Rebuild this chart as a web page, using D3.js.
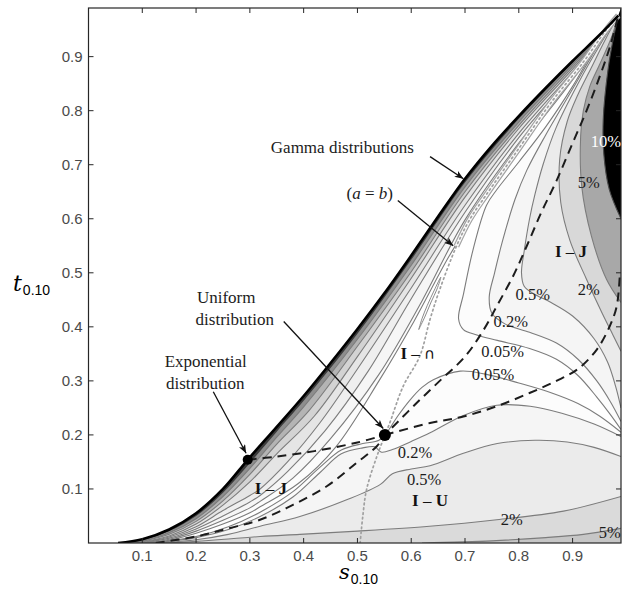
<!DOCTYPE html>
<html>
<head>
<meta charset="utf-8">
<script src="https://cdn.jsdelivr.net/npm/d3@7"></script>
<style>
  body { margin: 0; background: #fff; }
  text { font-family: "Liberation Serif", "Times New Roman", serif; }
  .tick-label { font-family: "Liberation Sans", Arial, sans-serif; font-size: 15px; fill: #4a4a4a; }
</style>
</head>
<body>
<svg id="chart" width="626" height="590"></svg>
<script>
// ---------- axis ticks ----------
const tickValues = [0.1, 0.2, 0.3, 0.4, 0.5, 0.6, 0.7, 0.8, 0.9];
const tickLabels = ["0.1", "0.2", "0.3", "0.4", "0.5", "0.6", "0.7", "0.8", "0.9"];

// ---------- Gamma boundary (s, t) ----------
const gammaCurve = [[0.055,0],[0.1,0.007],[0.15,0.025],[0.2,0.055],[0.25,0.1],[0.296,0.154],[0.35,0.215],
  [0.4,0.272],[0.45,0.333],[0.5,0.396],[0.55,0.462],[0.6,0.532],[0.65,0.604],[0.7,0.674],[0.75,0.735],
  [0.8,0.79],[0.85,0.842],[0.9,0.892],[0.95,0.94],[0.985,0.976]];

// ---------- contour bands hugging the Gamma boundary ----------
const bandE1 = [[0.062,0],[0.1,0.005],[0.15,0.022],[0.2,0.05],[0.25,0.093],[0.3,0.148],[0.35,0.206],[0.4,0.263],
  [0.5,0.387],[0.6,0.524],[0.7,0.667],[0.8,0.785],[0.9,0.889],[0.985,0.976]];
const bandE2 = [[0.07,0],[0.1,0.004],[0.15,0.019],[0.2,0.045],[0.25,0.086],[0.3,0.138],[0.35,0.196],[0.4,0.252],
  [0.5,0.377],[0.6,0.514],[0.7,0.659],[0.8,0.779],[0.9,0.885],[0.985,0.976]];
const bandE3 = [[0.078,0],[0.1,0.003],[0.15,0.016],[0.2,0.04],[0.25,0.078],[0.3,0.127],[0.35,0.183],[0.41,0.245],
  [0.5,0.364],[0.6,0.502],[0.7,0.65],[0.8,0.773],[0.9,0.881],[0.985,0.976]];
const bandE4 = [[0.086,0],[0.15,0.013],[0.2,0.035],[0.25,0.07],[0.3,0.113],[0.35,0.165],[0.42,0.235],
  [0.5,0.345],[0.6,0.49],[0.7,0.64],[0.8,0.767],[0.9,0.877],[0.985,0.976]];
const fanF1 = [[0.093,0],[0.15,0.011],[0.2,0.03],[0.25,0.06],[0.3,0.088],[0.319,0.1],[0.37,0.15],[0.43,0.222],
  [0.5,0.322],[0.6,0.472],[0.7,0.625],[0.8,0.758],[0.9,0.872],[0.985,0.976]];
const fanF2 = [[0.1,0],[0.15,0.009],[0.2,0.026],[0.25,0.05],[0.3,0.076],[0.319,0.088],[0.37,0.132],[0.44,0.208],
  [0.52,0.318],[0.6,0.452],[0.7,0.612],[0.8,0.75],[0.9,0.867],[0.985,0.976]];
const fanF3 = [[0.105,0],[0.15,0.007],[0.2,0.022],[0.25,0.042],[0.3,0.065],[0.319,0.077],[0.38,0.12],[0.45,0.193],
  [0.54,0.312],[0.62,0.448],[0.7,0.598],[0.8,0.74],[0.9,0.862],[0.985,0.976]];
const fanF4 = [[0.11,0],[0.15,0.005],[0.2,0.018],[0.25,0.035],[0.3,0.056],[0.319,0.067],[0.39,0.11],[0.46,0.178],
  [0.54,0.3],[0.605,0.41],[0.67,0.53],[0.72,0.61],[0.8,0.728],[0.9,0.857],[0.985,0.976]];
const leafContour = [[0.614,0.395],[0.62,0.415],[0.63,0.44],[0.643,0.468],[0.655,0.492],[0.648,0.47],
  [0.637,0.446],[0.626,0.42],[0.614,0.395]];

// ---------- contours in the lower (I-U) part ----------
const lowC005 = [[0.115,0],[0.2,0.012],[0.26,0.03],[0.319,0.057],[0.38,0.095],[0.43,0.14],[0.47,0.172],[0.51,0.184],
  [0.54,0.19],[0.555,0.205],[0.575,0.235],[0.598,0.265],[0.62,0.288],[0.641,0.302],[0.691,0.318],[0.74,0.312],
  [0.8,0.296],[0.86,0.278],[0.91,0.258],[0.95,0.235],[0.99,0.205]];
const lowC02 = [[0.12,0],[0.2,0.01],[0.26,0.025],[0.319,0.049],[0.38,0.085],[0.43,0.13],[0.47,0.165],[0.51,0.176],
  [0.532,0.178],[0.545,0.168],[0.565,0.173],[0.6,0.188],[0.635,0.204],[0.697,0.236],[0.759,0.255],[0.821,0.253],
  [0.88,0.24],[0.94,0.22],[0.99,0.197]];
const lowC05 = [[0.13,0],[0.2,0.006],[0.26,0.016],[0.319,0.031],[0.393,0.049],[0.48,0.08],[0.542,0.108],[0.565,0.128],
  [0.6,0.137],[0.635,0.143],[0.697,0.166],[0.76,0.184],[0.83,0.19],[0.89,0.187],[0.94,0.177],[0.99,0.16]];
const lowC2 = [[0.14,0],[0.2,0.003],[0.319,0.012],[0.393,0.016],[0.5,0.022],[0.634,0.031],[0.759,0.043],
  [0.883,0.059],[0.99,0.086]];
const lowC5 = [[0.62,0],[0.75,0.004],[0.85,0.01],[0.92,0.016],[0.99,0.027]];

// ---------- contours in the upper-right (I-∩ / I-J) part ----------
const upC005 = [[0.985,0.976],[0.95,0.93],[0.9,0.845],[0.85,0.77],[0.8,0.705],[0.76,0.655],[0.74,0.625],[0.715,0.543],
  [0.697,0.46],[0.688,0.415],[0.697,0.395],[0.722,0.385],[0.76,0.375],[0.82,0.36],[0.87,0.34],[0.91,0.31],
  [0.945,0.27],[0.97,0.238],[0.99,0.21]];
const upC02 = [[0.985,0.976],[0.95,0.925],[0.9,0.84],[0.85,0.755],[0.815,0.69],[0.793,0.636],[0.77,0.56],[0.755,0.5],
  [0.745,0.455],[0.75,0.425],[0.775,0.405],[0.82,0.39],[0.87,0.37],[0.91,0.34],[0.945,0.3],[0.97,0.262],[0.99,0.225]];
const upC05 = [[0.985,0.976],[0.95,0.92],[0.91,0.85],[0.87,0.77],[0.845,0.7],[0.83,0.645],[0.82,0.6],[0.81,0.54],
  [0.805,0.5],[0.81,0.475],[0.83,0.46],[0.86,0.445],[0.9,0.42],[0.94,0.378],[0.965,0.335],[0.98,0.29],[0.99,0.25]];
const upC2 = [[0.985,0.976],[0.96,0.93],[0.935,0.88],[0.91,0.83],[0.89,0.78],[0.876,0.71],[0.878,0.63],[0.895,0.56],
  [0.925,0.49],[0.955,0.425],[0.975,0.385],[0.99,0.355]];
const upC5 = [[0.985,0.976],[0.972,0.935],[0.95,0.885],[0.932,0.845],[0.92,0.8],[0.915,0.753],[0.917,0.66],
  [0.935,0.568],[0.963,0.488],[0.99,0.445]];
const upC10 = [[0.985,0.976],[0.976,0.935],[0.966,0.877],[0.957,0.784],[0.958,0.72],[0.968,0.655],[0.99,0.6]];

// ---------- reference curves ----------
const symmetricLine = [[0.505,0],[0.51,0.05],[0.517,0.099],[0.536,0.16],[0.56,0.222],[0.585,0.29],[0.616,0.346],
  [0.635,0.414],[0.653,0.469],[0.684,0.549],[0.709,0.599],[0.74,0.645],[0.8,0.73],[0.86,0.815],[0.92,0.89],
  [0.96,0.946],[0.985,0.976]];
const dashedExpUni = [[0.296,0.154],[0.35,0.16],[0.42,0.17],[0.5,0.186],[0.551,0.2]];
const dashedUniEdge = [[0.551,0.2],[0.635,0.222],[0.697,0.234],[0.759,0.253],[0.821,0.278],[0.87,0.3],[0.91,0.322],
  [0.945,0.358],[0.969,0.401],[0.982,0.438],[0.988,0.5]];
const dashedDiag = [[0.125,0],[0.2,0.012],[0.26,0.027],[0.319,0.043],[0.381,0.071],[0.443,0.105],[0.498,0.148],
  [0.536,0.179],[0.551,0.2],[0.567,0.216],[0.61,0.259],[0.653,0.3],[0.7,0.345],[0.735,0.395],[0.76,0.44],
  [0.79,0.495],[0.815,0.55],[0.842,0.612],[0.87,0.67],[0.9,0.74],[0.926,0.8],[0.95,0.862],[0.97,0.92],[0.985,0.976]];

// ---------- special distributions ----------
const specialPoints = [[0.296,0.154],[0.551,0.2]];

// ---------- annotations: [s, t, text] ----------
const levelLabels = [[0.962,0.743,"10%"],[0.93,0.667,"5%"],[0.93,0.469,"2%"],[0.826,0.46,"0.5%"],[0.785,0.41,"0.2%"],
  [0.77,0.354,"0.05%"],[0.752,0.312,"0.05%"],[0.607,0.167,"0.2%"],[0.624,0.117,"0.5%"],[0.787,0.043,"2%"],
  [0.969,0.019,"5%"]];
const regionLabels = [[0.612,0.352,"I","∩"],[0.897,0.54,"I","J"],[0.339,0.102,"I","J"],[0.635,0.08,"I","U"]];
const noteLabels = [[0.472,0.732,"Gamma distributions"],[0.256,0.454,"Uniform"],[0.272,0.413,"distribution"],
  [0.218,0.336,"Exponential"],[0.217,0.295,"distribution"]];
const arrows = [[[0.635,0.715],[0.697,0.674]],[[0.575,0.634],[0.678,0.55]],[[0.363,0.41],[0.548,0.212]],
  [[0.232,0.28],[0.293,0.166]]];
const symLabelPos = [0.523,0.647];

// ---------- scales ----------
const S_MAX = 0.99, T_MAX = 0.99;
const x = d3.scaleLinear().domain([0, S_MAX]).range([88.5, 621]);
const y = d3.scaleLinear().domain([0, T_MAX]).range([543, 8]);

const svg = d3.select("#chart");
const defs = svg.append("defs");
defs.append("clipPath").attr("id", "plotClip").append("rect")
  .attr("x", x(0)).attr("y", y(T_MAX)).attr("width", x(S_MAX) - x(0)).attr("height", y(0) - y(T_MAX));
defs.append("marker").attr("id", "arrowHead").attr("viewBox", "0 0 10 8")
  .attr("refX", 10).attr("refY", 4).attr("markerWidth", 10).attr("markerHeight", 7)
  .attr("markerUnits", "userSpaceOnUse").attr("orient", "auto")
  .append("path").attr("d", "M0,0 L10,4 L0,8 L2.5,4 Z").attr("fill", "#111");

const line = d3.line().x(d => x(d[0])).y(d => y(d[1])).curve(d3.curveCatmullRom.alpha(0.5));
const plot = svg.append("g").attr("clip-path", "url(#plotClip)");

// region under a lower contour, down to t = 0
const belowPath = pts => line(pts) + `L${x(S_MAX)},${y(0)}L${x(pts[0][0])},${y(0)}Z`;
// region between an upper contour and the right edge
const rightPath = pts => line(pts) + `L${x(S_MAX)},${y(T_MAX)}Z`;
// region between a fan contour and the Gamma boundary
const gammaRev = gammaCurve.slice().reverse();
const fanPath = pts => line(pts) + line(gammaRev).replace(/^M/, "L") + "Z";

const lowerFills = [[lowC005, "#fcfcfc"], [lowC02, "#f5f5f5"], [lowC05, "#ebebeb"], [lowC2, "#dadada"], [lowC5, "#c6c6c6"]];
const upperFills = [[upC005, "#fcfcfc"], [upC02, "#f5f5f5"], [upC05, "#ebebeb"], [upC2, "#d8d8d8"], [upC5, "#a8a8a8"], [upC10, "#000"]];
const fanFills = [[fanF4, "#fcfcfc"], [fanF3, "#f6f6f6"], [fanF2, "#efefef"], [fanF1, "#e5e5e5"],
  [bandE4, "#d3d3d3"], [bandE3, "#b4b4b4"], [bandE2, "#8e8e8e"], [bandE1, "#3a3a3a"]];

plot.selectAll("path.low").data(lowerFills).join("path").attr("class", "low")
  .attr("d", d => belowPath(d[0])).attr("fill", d => d[1]);
plot.selectAll("path.up").data(upperFills).join("path").attr("class", "up")
  .attr("d", d => rightPath(d[0])).attr("fill", d => d[1]);
plot.selectAll("path.fan").data(fanFills).join("path").attr("class", "fan")
  .attr("d", d => fanPath(d[0])).attr("fill", d => d[1]);

// contour lines
const contourLines = [lowC005, lowC02, lowC05, lowC2, lowC5, upC005, upC02, upC05, upC2, upC5,
  fanF4, fanF3, fanF2, fanF1, bandE4, bandE3, bandE2];
plot.selectAll("path.cl").data(contourLines).join("path").attr("class", "cl")
  .attr("d", line).attr("fill", "none").attr("stroke", "#7c7c7c").attr("stroke-width", 1.1);
plot.append("path").attr("d", line(upC10)).attr("fill", "none").attr("stroke", "#4a4a4a").attr("stroke-width", 1.1);
plot.append("path").attr("d", line(leafContour) + "Z").attr("fill", "#fff")
  .attr("stroke", "#8a8a8a").attr("stroke-width", 1);

// symmetric (a = b) line: a pale tube along the upper part, dotted throughout
const symUpper = symmetricLine.filter(d => d[1] >= 0.549);
plot.append("path").attr("d", line(symUpper)).attr("fill", "none").attr("stroke", "#a4a4a4").attr("stroke-width", 6);
plot.append("path").attr("d", line(symUpper)).attr("fill", "none").attr("stroke", "#fafafa").attr("stroke-width", 3.6);
plot.append("path").attr("d", line(symmetricLine)).attr("fill", "none").attr("stroke", "#a0a0a0")
  .attr("stroke-width", 1.7).attr("stroke-dasharray", "1.6,3.2").attr("stroke-linecap", "round");

// dashed shape-boundary curves
plot.selectAll("path.dash").data([dashedExpUni, dashedUniEdge, dashedDiag]).join("path").attr("class", "dash")
  .attr("d", line).attr("fill", "none").attr("stroke", "#1c1c1c").attr("stroke-width", 2)
  .attr("stroke-dasharray", "9,6");

// Gamma boundary
plot.append("path").attr("d", line(gammaCurve)).attr("fill", "none").attr("stroke", "#000").attr("stroke-width", 2.6);

// exponential and uniform points
plot.selectAll("circle.sp").data(specialPoints).join("circle").attr("class", "sp")
  .attr("cx", d => x(d[0])).attr("cy", d => y(d[1])).attr("r", (d, i) => i === 0 ? 5 : 6).attr("fill", "#000");

// ---------- frame and ticks ----------
const axes = svg.append("g");
axes.append("rect").attr("x", x(0)).attr("y", y(T_MAX)).attr("width", x(S_MAX) - x(0)).attr("height", y(0) - y(T_MAX))
  .attr("fill", "none").attr("stroke", "#262626").attr("stroke-width", 1.2);
const tk = 5;
axes.selectAll("line.xb").data(tickValues).join("line").attr("class", "xb")
  .attr("x1", d => x(d)).attr("x2", d => x(d)).attr("y1", y(0)).attr("y2", y(0) - tk).attr("stroke", "#262626");
axes.selectAll("line.xt").data(tickValues).join("line").attr("class", "xt")
  .attr("x1", d => x(d)).attr("x2", d => x(d)).attr("y1", y(T_MAX)).attr("y2", y(T_MAX) + tk).attr("stroke", "#262626");
axes.selectAll("line.yl").data(tickValues).join("line").attr("class", "yl")
  .attr("y1", d => y(d)).attr("y2", d => y(d)).attr("x1", x(0)).attr("x2", x(0) + tk).attr("stroke", "#262626");
axes.selectAll("line.yr").data(tickValues).join("line").attr("class", "yr")
  .attr("y1", d => y(d)).attr("y2", d => y(d)).attr("x1", x(S_MAX)).attr("x2", x(S_MAX) - tk).attr("stroke", "#262626");
axes.selectAll("text.xl").data(tickValues).join("text").attr("class", "tick-label xl")
  .attr("x", d => x(d)).attr("y", y(0) + 18).attr("text-anchor", "middle").text((d, i) => tickLabels[i]);
axes.selectAll("text.ylab").data(tickValues).join("text").attr("class", "tick-label ylab")
  .attr("x", x(0) - 6).attr("y", d => y(d) + 5).attr("text-anchor", "end").text((d, i) => tickLabels[i]);

// axis titles
const tTitle = svg.append("text").attr("x", 13).attr("y", 291);
tTitle.append("tspan").attr("font-style", "italic").attr("font-size", 22).attr("font-family", "'DejaVu Serif', serif").text("t");
tTitle.append("tspan").attr("font-family", "'Liberation Sans', Arial, sans-serif").attr("font-size", 14).attr("dy", 4).attr("dx", 1).text("0.10");
const sTitle = svg.append("text").attr("x", 339).attr("y", 579);
sTitle.append("tspan").attr("font-style", "italic").attr("font-size", 21).attr("font-family", "'DejaVu Serif', serif").text("s");
sTitle.append("tspan").attr("font-family", "'Liberation Sans', Arial, sans-serif").attr("font-size", 14).attr("dy", 5).attr("dx", 1).text("0.10");

// ---------- annotations ----------
const notes = svg.append("g");
notes.selectAll("line.arrow").data(arrows).join("line").attr("class", "arrow")
  .attr("x1", d => x(d[0][0])).attr("y1", d => y(d[0][1])).attr("x2", d => x(d[1][0])).attr("y2", d => y(d[1][1]))
  .attr("stroke", "#111").attr("stroke-width", 1.3).attr("marker-end", "url(#arrowHead)");

notes.selectAll("text.lvl").data(levelLabels).join("text").attr("class", "lvl")
  .attr("x", d => x(d[0])).attr("y", d => y(d[1]) + 5.5).attr("text-anchor", "middle")
  .attr("font-size", 16.5).attr("fill", d => d[2] === "10%" ? "#fff" : "#1c1c1c").text(d => d[2]);

notes.selectAll("text.note").data(noteLabels).join("text").attr("class", "note")
  .attr("x", d => x(d[0])).attr("y", d => y(d[1]) + 5.5).attr("text-anchor", "middle")
  .attr("font-size", 17).attr("fill", "#1c1c1c").text(d => d[2]);

const reg = notes.selectAll("text.reg").data(regionLabels).join("text").attr("class", "reg")
  .attr("x", d => x(d[0])).attr("y", d => y(d[1]) + 6).attr("text-anchor", "middle")
  .attr("font-size", 17).attr("fill", "#111");
reg.append("tspan").attr("font-weight", "bold").text(d => d[2]);
reg.append("tspan").text(" – ");
reg.append("tspan").attr("font-weight", d => d[3] === "∩" ? "normal" : "bold")
  .attr("font-family", d => d[3] === "∩" ? "'DejaVu Sans', sans-serif" : null)
  .attr("font-size", d => d[3] === "∩" ? 15 : 17).text(d => d[3]);

const sym = notes.append("text").attr("x", x(symLabelPos[0])).attr("y", y(symLabelPos[1]) + 6)
  .attr("text-anchor", "middle").attr("font-size", 17).attr("fill", "#1c1c1c");
sym.append("tspan").text("(");
sym.append("tspan").attr("font-style", "italic").text("a");
sym.append("tspan").text(" = ");
sym.append("tspan").attr("font-style", "italic").text("b");
sym.append("tspan").text(")");
</script>
</body>
</html>
